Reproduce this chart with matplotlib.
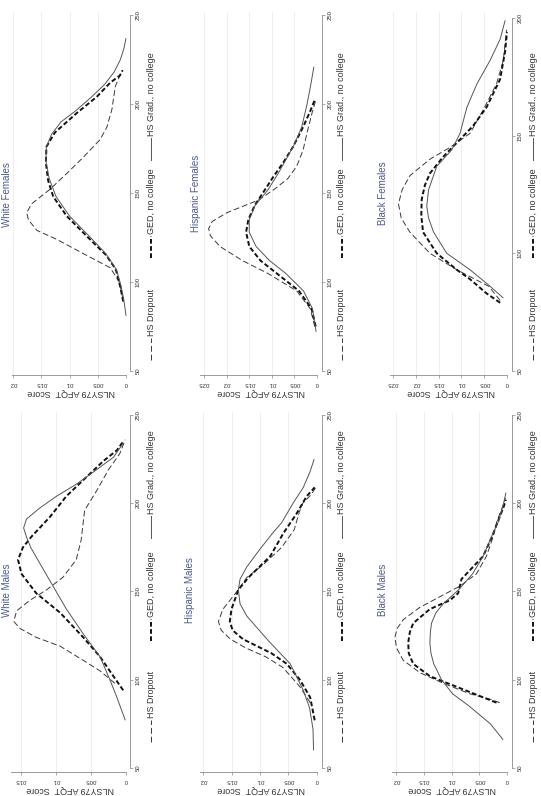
import matplotlib
matplotlib.use("Agg")
import matplotlib.pyplot as plt
from matplotlib.lines import Line2D

plt.rcParams['font.family'] = ['Liberation Sans', 'DejaVu Sans']

# ---- data: AFQT score points and kernel density values ----
# White Males
wm_drop_score = [98, 105, 111, 119, 124, 129, 133, 139, 145, 151, 158, 168, 179, 196, 207, 219, 228, 236]
wm_drop_dens = [.0016, .0037, .0061, .0094, .0128, .0151, .0160, .0156, .0137, .0113, .0090, .0071, .0064, .0059, .0042, .0025, .0009, .0001]
wm_ged_score = [94, 102, 113, 124, 138, 149, 160, 168, 175, 181, 192, 204, 215, 224, 230, 235]
wm_ged_dens = [.0004, .0018, .0037, .0061, .0094, .0128, .0149, .0154, .0147, .0135, .0109, .0085, .0056, .0032, .0013, .0004]
wm_grad_score = [77, 90, 100, 113, 126, 140, 153, 166, 175, 181, 186, 191, 197, 204, 211, 219, 226, 234]
wm_grad_dens = [.0001, .0013, .0023, .0037, .0061, .0085, .0104, .0123, .0136, .0142, .0146, .0142, .0124, .0099, .0070, .0042, .0018, .0004]

# White Females
wf_drop_score = [90, 100, 108, 116, 124, 129, 135, 139, 144, 152, 161, 170, 180, 187, 197, 210, 218]
wf_drop_dens = [.0005, .0012, .0028, .0076, .0123, .0158, .0173, .0176, .0167, .0135, .0105, .0076, .0046, .0034, .0025, .0019, .0008]
wf_ged_score = [89, 97, 107, 115, 124, 137, 148, 157, 167, 176, 184, 195, 204, 212, 216, 219]
wf_ged_dens = [.0005, .0010, .0018, .0035, .0064, .0105, .0129, .0138, .0142, .0141, .0126, .0087, .0052, .0028, .0011, .0006]
wf_grad_score = [81, 90, 98, 107, 116, 124, 137, 148, 158, 168, 176, 183, 190, 196, 204, 211, 218, 225, 231, 237]
wf_grad_dens = [.0000, .0004, .0009, .0017, .0036, .0060, .0100, .0124, .0136, .0142, .0141, .0132, .0115, .0090, .0061, .0038, .0021, .0010, .0004, .0000]

# Hispanic Males
hm_drop_score = [87, 96, 107, 113, 118, 123, 128, 133, 140, 151, 158, 165, 175, 185, 195, 200, 205, 209]
hm_drop_dens = [.0012, .0030, .0060, .0090, .0125, .0152, .0168, .0173, .0165, .0138, .0123, .0095, .0062, .0040, .0031, .0025, .0010, .0002]
hm_ged_score = [77, 90, 100, 109, 115, 119, 123, 128, 133, 140, 151, 158, 170, 183, 194, 204, 209]
hm_ged_dens = [.0004, .0012, .0030, .0053, .0080, .0105, .0130, .0148, .0153, .0150, .0138, .0120, .0082, .0059, .0036, .0018, .0004]
hm_grad_score = [60, 72, 84, 94, 109, 122, 136, 143, 151, 157, 164, 174, 183, 189, 200, 209, 218, 225]
hm_grad_dens = [.0006, .0007, .0013, .0024, .0047, .0085, .0123, .0135, .0138, .0135, .0123, .0100, .0078, .0062, .0042, .0024, .0012, .0005]

# Hispanic Females
hf_drop_score = [75, 85, 95, 105, 112, 120, 126, 130, 134, 139, 146, 152, 158, 165, 174, 185, 195, 202]
hf_drop_dens = [.0005, .0015, .0045, .0110, .0165, .0215, .0236, .0240, .0232, .0199, .0130, .0095, .0065, .0045, .0031, .0021, .0011, .0003]
hf_ged_score = [75, 85, 95, 105, 112, 120, 128, 135, 143, 150, 159, 167, 176, 187, 196, 203]
hf_ged_dens = [.0003, .0012, .0040, .0090, .0125, .0150, .0157, .0152, .0138, .0120, .0097, .0075, .0053, .0031, .0015, .0004]
hf_grad_score = [72, 85, 95, 105, 112, 120, 128, 135, 143, 152, 161, 170, 178, 187, 200, 212, 221]
hf_grad_dens = [.0002, .0010, .0030, .0070, .0105, .0135, .0150, .0150, .0137, .0108, .0086, .0066, .0049, .0034, .0022, .0013, .0007]

# Black Males
bm_drop_score = [87, 89, 92, 98, 104, 111, 118, 124, 129, 134, 141, 147, 153, 160, 170, 181, 190, 198, 203]
bm_drop_dens = [.0013, .0031, .0067, .0115, .0157, .0187, .0199, .0202, .0198, .0187, .0157, .0121, .0085, .0055, .0037, .0025, .0018, .0008, .0003]
bm_ged_score = [87, 90, 96, 102, 109, 115, 121, 127, 132, 140, 145, 149, 153, 157, 162, 170, 181, 190, 198, 202]
bm_ged_dens = [.0019, .0043, .0091, .0139, .0169, .0177, .0178, .0175, .0169, .0139, .0103, .0088, .0085, .0082, .0067, .0043, .0027, .0016, .0006, .0002]
bm_grad_score = [66, 75, 85, 92, 100, 109, 115, 121, 127, 132, 138, 143, 151, 160, 170, 181, 190, 200, 206]
bm_grad_dens = [.0007, .0030, .0068, .0098, .0118, .0132, .0137, .0139, .0138, .0136, .0128, .0115, .0087, .0062, .0043, .0028, .0015, .0006, .0002]

# Black Females
bf_drop_score = [80, 86, 93, 100, 109, 115, 121, 127, 133, 140, 145, 151, 161, 172, 182, 195]
bf_drop_dens = [.0015, .0040, .0110, .0169, .0213, .0232, .0238, .0230, .0213, .0169, .0125, .0081, .0052, .0023, .0008, .0001]
bf_ged_score = [79, 83, 89, 93, 100, 109, 116, 123, 129, 134, 141, 147, 154, 162, 174, 186, 194]
bf_ged_dens = [.0015, .0045, .0081, .0110, .0154, .0184, .0188, .0187, .0180, .0169, .0140, .0110, .0075, .0045, .0015, .0004, .0000]
bf_grad_score = [81, 86, 93, 100, 109, 115, 120, 127, 137, 144, 151, 162, 172, 182, 191, 199]
bf_grad_dens = [.0008, .0037, .0081, .0132, .0161, .0172, .0176, .0172, .0154, .0121, .0103, .0088, .0066, .0037, .0015, .0004]

titles = ["White Males", "White Females", "Hispanic Males", "Hispanic Females",
          "Black Males", "Black Females"]
legend_labels = ["HS Dropout", "GED, no college", "HS Grad., no college"]

# ---- layout (page is turned 90 degrees, everything in pixels of the 541x796 image) ----
W, H = 541, 796


def fx(x):
    return x / W


def fy(y):
    return 1 - y / H


styles = [
    dict(color='#3a3a3a', lw=0.7, dashes=(6, 3)),      # HS Dropout
    dict(color='#111111', lw=1.4, dashes=(2.4, 1.3)),  # GED
    dict(color='#555555', lw=0.7),                     # HS Grad
]

fig = plt.figure(figsize=(W / 100, H / 100), dpi=100)
fig.patch.set_facecolor('white')

# (title, series, x0, x1, y0, y1, xlim, ylim, density ticks, score ticks, title pos, legend x, legend starts)
panels = [
    ("White Males", [(wm_drop_dens, wm_drop_score), (wm_ged_dens, wm_ged_score), (wm_grad_dens, wm_grad_score)],
     11, 130, 412, 772, (.0164, -.00057), (47.7, 251.7), [0, .005, .01, .015], [50, 100, 150, 200, 250],
     (7, 590), 151, [742, 641, 538]),
    ("White Females", [(wf_drop_dens, wf_drop_score), (wf_ged_dens, wf_ged_score), (wf_grad_dens, wf_grad_score)],
     12, 130, 12, 375, (.0202, -.0007), (47.75, 251.7), [0, .005, .01, .015, .02], [50, 100, 150, 200, 250],
     (7, 195), 151, [360, 258, 160]),
    ("Hispanic Males", [(hm_drop_dens, hm_drop_score), (hm_ged_dens, hm_ged_score), (hm_grad_dens, hm_grad_score)],
     200, 322, 412, 772, (.02053, -.00088), (47.7, 251.7), [0, .005, .01, .015, .02], [50, 100, 150, 200, 250],
     (190, 590), 342, [742, 641, 538]),
    ("Hispanic Females", [(hf_drop_dens, hf_drop_score), (hf_ged_dens, hf_ged_score), (hf_grad_dens, hf_grad_score)],
     200, 322, 12, 375, (.0259, -.0011), (47.75, 251.7), [0, .005, .01, .015, .02, .025], [50, 100, 150, 200, 250],
     (196, 193), 342, [360, 258, 160]),
    ("Black Males", [(bm_drop_dens, bm_drop_score), (bm_ged_dens, bm_ged_score), (bm_grad_dens, bm_grad_score)],
     392, 512, 412, 772, (.02072, -.0009), (47.7, 251.7), [0, .005, .01, .015, .02], [50, 100, 150, 200, 250],
     (383, 590), 533, [742, 641, 538]),
    ("Black Females", [(bf_drop_dens, bf_drop_score), (bf_ged_dens, bf_ged_score), (bf_grad_dens, bf_grad_score)],
     390, 512, 12, 375, (.02566, -.0011), (48.3, 202.55), [0, .005, .01, .015, .02, .025], [50, 100, 150, 200],
     (383, 193), 533, [360, 258, 160]),
]


def dens_label(v):
    if v == 0:
        return "0"
    return ("%g" % v).lstrip("0")


axis_gray = '#8a8a8a'
title_color = '#4b5a8c'

for (title, series, x0, x1, y0, y1, xlim, ylim, dticks, sticks,
     tpos, legx, legstarts) in panels:
    ax = fig.add_axes([fx(x0), fy(y1), (x1 - x0) / W, (y1 - y0) / H])
    ax.set_facecolor('white')

    for v in dticks[1:]:
        ax.axvline(v, color='#e8e8e8', lw=0.5, zorder=0)

    for (d, s), st in zip(series, styles):
        ax.plot(d, s, **st, solid_capstyle='butt', dash_capstyle='butt')

    ax.set_xlim(*xlim)
    ax.set_ylim(*ylim)

    for side in ['top', 'left']:
        ax.spines[side].set_visible(False)
    ax.spines['bottom'].set_color(axis_gray)
    ax.spines['right'].set_color(axis_gray)
    ax.spines['bottom'].set_linewidth(0.6)
    ax.spines['right'].set_linewidth(0.6)
    ax.spines['bottom'].set_bounds(0, xlim[0])
    ax.spines['right'].set_bounds(sticks[0], sticks[-1])

    ax.yaxis.tick_right()
    ax.set_yticks(sticks)
    ax.set_yticklabels([str(t) for t in sticks])
    ax.set_xticks(dticks)
    ax.set_xticklabels([dens_label(t) for t in dticks])
    ax.tick_params(axis='x', labelrotation=180, labelsize=4.3, length=2.5, width=0.5,
                   color=axis_gray, pad=1.5, labelcolor='#333333')
    ax.tick_params(axis='y', labelrotation=90, labelsize=4.3, length=2.5, width=0.5,
                   color=axis_gray, pad=1.5, labelcolor='#333333')
    for lab in ax.get_yticklabels():
        lab.set_verticalalignment('center')

    ax.set_xlabel("NLSY79 AFQT  Score", rotation=180, fontsize=6.5, color='#333333', labelpad=2)

    fig.text(fx(tpos[0]), fy(tpos[1]), title, rotation=90, ha='center', va='center',
             fontsize=7, color=title_color)

    # legend, turned with the page
    for start, label, st in zip(legstarts, legend_labels, styles):
        key = Line2D([fx(legx), fx(legx)], [fy(start), fy(start - 22)],
                     transform=fig.transFigure, **st)
        fig.add_artist(key)
        fig.text(fx(legx), fy(start - 24), label, rotation=90, ha='center', va='bottom',
                 fontsize=6.5, color='#333333')

fig.savefig("out.png", dpi=100, facecolor='white')
